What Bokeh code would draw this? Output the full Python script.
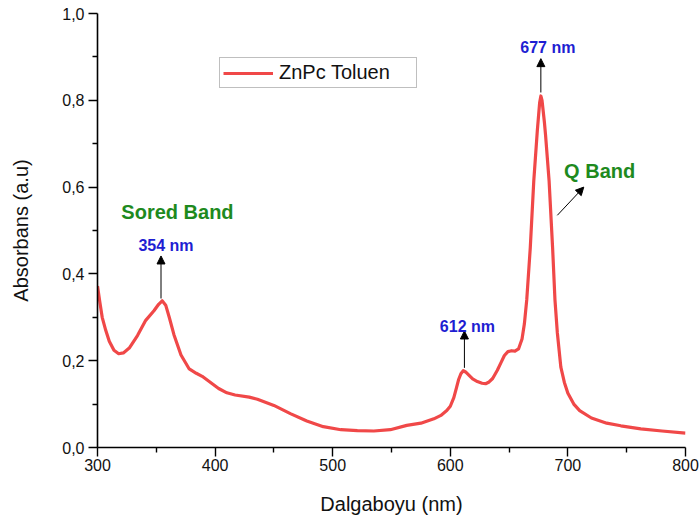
import numpy as np
from bokeh.plotting import figure
from bokeh.models import (FixedTicker, Range1d, Arrow, NormalHead, Label, Legend)
from bokeh.embed import file_html
from bokeh.resources import INLINE

# ---- data ----
wavelength = [300, 302, 304, 307, 310, 314, 318, 322, 327, 334, 341, 348, 352, 355, 358,
              361, 365, 371, 378, 384, 389, 397, 403, 410, 417, 429, 436, 450, 464, 478, 492,
              507, 521, 535, 549, 563, 575, 586, 592, 597, 600, 603, 605, 607, 609, 611,
              613, 616, 619, 623, 627, 630, 633, 636, 640, 643, 646, 649, 652, 655, 658,
              661, 663, 665, 668, 671, 674, 676, 677, 678, 680, 681, 684, 687, 689, 691,
              694, 697, 700, 705, 710, 720, 733, 745, 762, 780, 800]
absorbance = [0.372, 0.335, 0.300, 0.270, 0.245, 0.224, 0.216, 0.218, 0.229, 0.258, 0.293,
              0.315, 0.330, 0.338, 0.328, 0.300, 0.260, 0.213, 0.181, 0.171, 0.164, 0.148,
              0.136, 0.126, 0.121, 0.116, 0.111, 0.097, 0.078, 0.061, 0.048, 0.041, 0.039, 0.038,
              0.041, 0.051, 0.056, 0.066, 0.074, 0.085, 0.095, 0.115, 0.135, 0.156, 0.170,
              0.177, 0.174, 0.166, 0.158, 0.152, 0.148, 0.147, 0.151, 0.159, 0.178, 0.195,
              0.212, 0.221, 0.223, 0.222, 0.227, 0.250, 0.285, 0.340, 0.460, 0.615, 0.730,
              0.795, 0.810, 0.800, 0.750, 0.720, 0.615, 0.460, 0.340, 0.265, 0.185, 0.150,
              0.125, 0.100, 0.085, 0.068, 0.056, 0.050, 0.043, 0.038, 0.033]

peak_wl = [354, 612, 677]
peak_labels = ["354 nm", "612 nm", "677 nm"]

x_ticks = [300, 400, 500, 600, 700, 800]
x_minor = [350, 450, 550, 650, 750]
y_ticks = [0.0, 0.2, 0.4, 0.6, 0.8, 1.0]
y_tick_labels = ["0,0", "0,2", "0,4", "0,6", "0,8", "1,0"]
y_minor = [0.1, 0.3, 0.5, 0.7, 0.9]

FONT = "Liberation Sans"
RED = "#F04848"
BLUE = "#1E1ED2"
GREEN = "#1E8A1E"

p = figure(width=699, height=525, output_backend="svg", toolbar_location=None,
           x_range=Range1d(300, 800), y_range=Range1d(0, 1.0),
           min_border_left=97, min_border_right=14, min_border_top=13, min_border_bottom=78)
p.outline_line_color = None
p.xgrid.visible = False
p.ygrid.visible = False
p.background_fill_color = "white"
p.border_fill_color = "white"

r = p.line(wavelength, absorbance, line_color=RED, line_width=3.2, line_join="round")

for ax in (p.xaxis[0], p.yaxis[0]):
    ax.axis_line_color = "black"
    ax.axis_line_width = 1.6
    ax.major_tick_line_color = "black"
    ax.minor_tick_line_color = "black"
    ax.major_tick_line_width = 1.4
    ax.minor_tick_line_width = 1.4
    ax.major_tick_in = 0
    ax.minor_tick_in = 0
    ax.major_tick_out = 9
    ax.minor_tick_out = 5
    ax.major_label_text_font = FONT
    ax.major_label_text_font_size = "16px"
    ax.major_label_text_color = "#111111"
    ax.axis_label_text_font = FONT
    ax.axis_label_text_font_size = "20px"
    ax.axis_label_text_font_style = "normal"
    ax.axis_label_text_color = "#111111"

p.xaxis.ticker = FixedTicker(ticks=x_ticks, minor_ticks=x_minor)
p.yaxis.ticker = FixedTicker(ticks=y_ticks, minor_ticks=y_minor)
p.yaxis.major_label_overrides = {t: l for t, l in zip(y_ticks, y_tick_labels)}
p.xaxis.axis_label = "Dalgaboyu (nm)"
p.yaxis.axis_label = "Absorbans (a.u)"
p.xaxis.major_label_standoff = 2
p.xaxis.axis_label_standoff = 19
p.yaxis.major_label_standoff = 4
p.yaxis.axis_label_standoff = 27

legend = Legend(items=[("ZnPc Toluen", [r])], location=(122, 359),
                border_line_color="#808080", border_line_width=1.2,
                label_text_font=FONT, label_text_font_size="20px",
                label_text_color="#111111",
                glyph_width=50, glyph_height=20, label_height=20,
                label_standoff=6, padding=3, spacing=0, margin=0,
                label_width=134)
p.add_layout(legend)

# ---- peak annotations ----
label_dy = [0.025, 0.010, 0.025]
arrow_len = [0.098, 0.085, 0.078]
label_dx = [5, 3, 7]
for wl, txt, dy, ln, dx in zip(peak_wl, peak_labels, label_dy, arrow_len, label_dx):
    y0 = float(np.interp(wl, wavelength, absorbance)) + 0.008
    p.add_layout(Arrow(end=NormalHead(size=8, fill_color="black", line_color="black"),
                       x_start=wl, y_start=y0, x_end=wl, y_end=y0 + ln,
                       line_color="black", line_width=1))
    p.add_layout(Label(x=wl, y=y0 + ln + dy, text=txt, x_offset=dx,
                       text_align="center", text_baseline="middle",
                       text_font=FONT, text_font_size="16px", text_font_style="bold",
                       text_color=BLUE))

p.add_layout(Label(x=368, y=0.542, text="Sored Band", text_align="center",
                   text_baseline="middle", text_font=FONT, text_font_size="20px",
                   text_font_style="bold", text_color=GREEN))
p.add_layout(Label(x=727, y=0.638, text="Q Band", text_align="center",
                   text_baseline="middle", text_font=FONT, text_font_size="20px",
                   text_font_style="bold", text_color=GREEN))
p.add_layout(Arrow(end=NormalHead(size=8, fill_color="black", line_color="black"),
                   x_start=691, y_start=0.535, x_end=713.5, y_end=0.60,
                   line_color="black", line_width=1))

open("out.html", "w").write(file_html(p, INLINE))
